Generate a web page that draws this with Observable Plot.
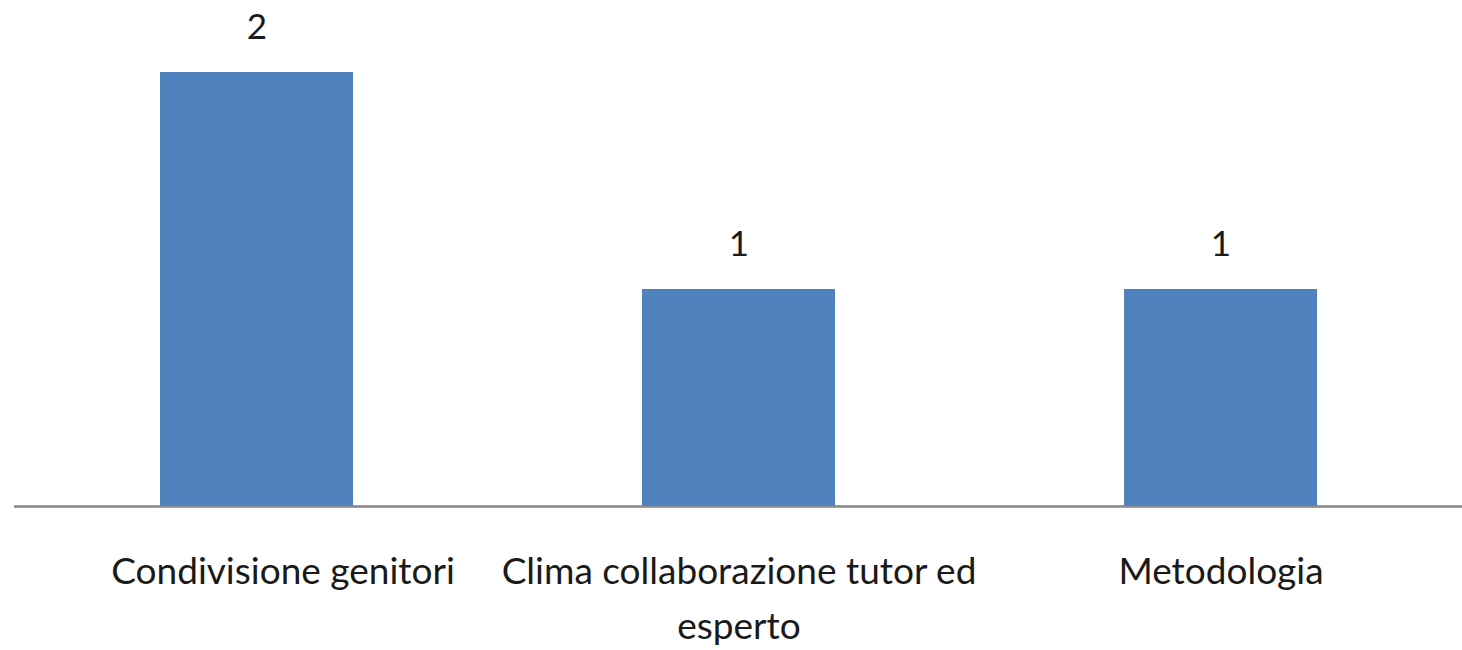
<!DOCTYPE html>
<html>
<head>
<meta charset="utf-8">
<script src="https://cdn.jsdelivr.net/npm/d3@7"></script>
<script src="https://cdn.jsdelivr.net/npm/@observablehq/plot@0.6"></script>
<style>
  html, body { margin: 0; padding: 0; background: #fff; }
  #chart svg { display: block; }
</style>
</head>
<body>
<div id="chart"></div>
<script>
const categories = ["Condivisione genitori", "Clima collaborazione tutor ed esperto", "Metodologia"];
const values = [2, 1, 1];
const tickLabels = ["Condivisione genitori", "Clima collaborazione tutor ed\nesperto", "Metodologia"];

const data = categories.map((c, i) => ({category: c, value: values[i], label: tickLabels[i]}));
const labelOf = new Map(data.map(d => [d.category, d.label]));

const FONT = "Lato, 'Open Sans', sans-serif";
const axisOpts = {tickSize: 0, tickPadding: 38, fontSize: 37, lineHeight: 1.5, lineAnchor: "top", tickFormat: c => labelOf.get(c), fill: "#1a1a1a", label: null};

const chart = Plot.plot({
  width: 1462,
  height: 650,
  marginTop: 72,
  marginBottom: 144,
  marginLeft: 14,
  marginRight: 0,
  style: {fontFamily: FONT, background: "#fff", color: "#1a1a1a"},
  x: {domain: categories, paddingInner: 0.6, paddingOuter: 0.3},
  y: {domain: [0, 2], axis: null},
  marks: [
    Plot.barY(data, {x: "category", y: "value", fill: "#4F81BD"}),
    Plot.ruleY([0], {stroke: "#868686", strokeWidth: 2.5}),
    Plot.text(data, {x: "category", y: "value", text: d => String(d.value), dy: -45, fontSize: 35, fill: "#1a1a1a", lineAnchor: "middle"}),
    Plot.axisX({...axisOpts, ticks: categories.slice(0, 1), dx: 26}),
    Plot.axisX({...axisOpts, ticks: categories.slice(1)})
  ]
});
document.getElementById("chart").appendChild(chart);
</script>
</body>
</html>
